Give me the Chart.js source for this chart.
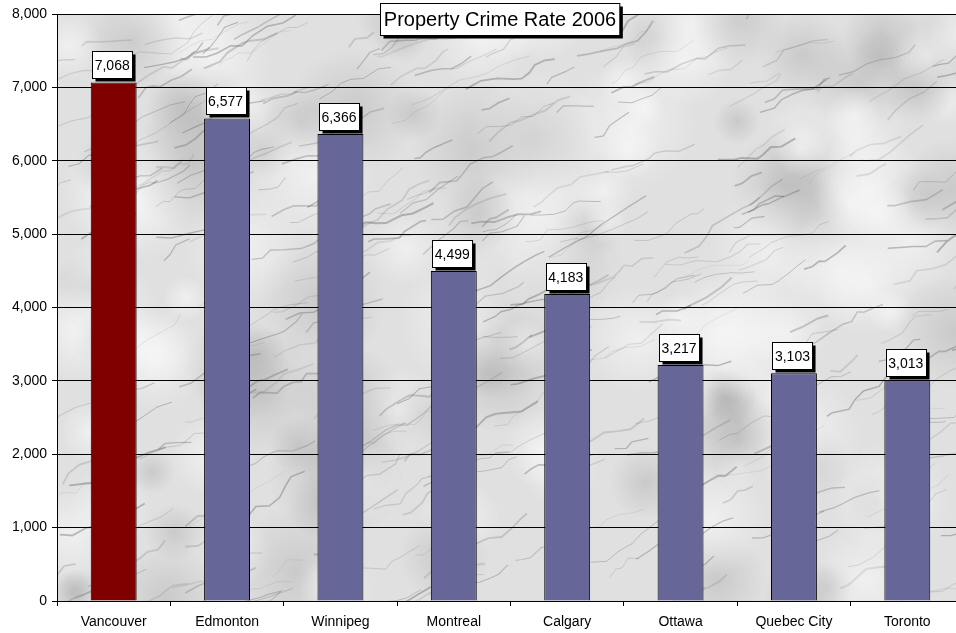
<!DOCTYPE html>
<html><head><meta charset="utf-8">
<script src="https://cdn.jsdelivr.net/npm/chart.js@4/dist/chart.umd.min.js"></script>
<style>html,body{margin:0;padding:0;background:#fff;overflow:hidden;width:956px;height:633px}canvas{display:block}</style>
</head><body>
<canvas id="c" width="964" height="633"></canvas>
<script>
const categories = ["Vancouver","Edmonton","Winnipeg","Montreal","Calgary","Ottawa","Quebec City","Toronto"];
const crimeRate = [7068,6577,6366,4499,4183,3217,3103,3013];
const barColors = ["#800000","#666699","#666699","#666699","#666699","#666699","#666699","#666699"];
const titleText = "Property Crime Rate 2006";

function h(n){const s=Math.sin(n*127.1+311.7)*43758.5453;return s-Math.floor(s);}

const marble = {
  id:'marble',
  beforeDraw(chart){
    const {ctx, chartArea:a} = chart;
    ctx.save();
    ctx.beginPath(); ctx.rect(a.left,a.top,a.right-a.left,a.bottom-a.top); ctx.clip();
    ctx.fillStyle = '#e0e0e0';
    ctx.fillRect(a.left,a.top,a.right-a.left,a.bottom-a.top);
    for(let i=0;i<140;i++){
      const x=a.left+h(i)*(a.right-a.left), y=a.top+h(i+500)*(a.bottom-a.top);
      const r=20+h(i+900)*50;
      const g=ctx.createRadialGradient(x,y,0,x,y,r);
      const light = h(i+1300)>0.45;
      g.addColorStop(0, light?'rgba(250,250,250,0.6)':'rgba(160,160,160,0.35)');
      g.addColorStop(1, light?'rgba(250,250,250,0)':'rgba(160,160,160,0)');
      ctx.fillStyle=g; ctx.beginPath(); ctx.arc(x,y,r,0,Math.PI*2); ctx.fill();
    }
    for(let i=0;i<320;i++){
      let x=a.left-30+h(i+2000)*(a.right-a.left+30), y=a.top+h(i+3000)*(a.bottom-a.top+30);
      ctx.strokeStyle='rgba(100,100,100,'+(0.12+h(i+4000)*0.3)+')';
      ctx.lineWidth=0.6+h(i+5000)*1.4;
      ctx.beginPath(); ctx.moveTo(x,y);
      const segs=3+Math.floor(h(i+6000)*6);
      for(let s=0;s<segs;s++){
        x += 5+h(i*7+s)*12; y -= 1+h(i*11+s+70)*12 - 2;
        ctx.lineTo(x,y);
      }
      ctx.stroke();
    }
    ctx.restore();
  }
};

const overlay = {
  id:'overlay',
  afterDraw(chart){
    const ctx=chart.ctx;
    ctx.save();
    ctx.font='14px "Liberation Sans", Arial, sans-serif';
    ctx.textAlign='center'; ctx.textBaseline='middle';
    const meta=chart.getDatasetMeta(0);
    meta.data.forEach((bar,i)=>{
      const txt=crimeRate[i].toLocaleString('en-US');
      const w=ctx.measureText(txt).width+5, hgt=27;
      const cx=bar.x-1.5, bottom=bar.y-4;
      const x=Math.round(cx-w/2)+0.5, y=Math.round(bottom-hgt)+0.5;
      ctx.fillStyle='#000'; ctx.fillRect(x+3,y+3,w,hgt);
      ctx.fillStyle='#fff'; ctx.fillRect(x,y,w,hgt);
      ctx.strokeStyle='#000'; ctx.lineWidth=1; ctx.strokeRect(x,y,w,hgt);
      ctx.fillStyle='#000'; ctx.fillText(txt,cx,y+hgt/2+1);
    });
    ctx.font='20px "Liberation Sans", Arial, sans-serif';
    const tw=ctx.measureText(titleText).width+7;
    const tx=Math.round(500-tw/2)+0.5, ty=3.5, th=32;
    ctx.fillStyle='#000'; ctx.fillRect(tx+3,ty+3,tw,th);
    ctx.fillStyle='#fff'; ctx.fillRect(tx,ty,tw,th);
    ctx.strokeStyle='#000'; ctx.strokeRect(tx,ty,tw,th);
    ctx.fillStyle='#000'; ctx.fillText(titleText,500,ty+th/2+1);
    ctx.restore();
  }
};

new Chart(document.getElementById('c'),{
  type:'bar',
  data:{labels:categories,datasets:[{data:crimeRate,backgroundColor:barColors,borderColor:'#000',borderWidth:1,barPercentage:0.405,categoryPercentage:1}]},
  options:{
    responsive:false,animation:false,
    layout:{padding:{top:14,left:0,right:0,bottom:0}},
    plugins:{legend:{display:false},title:{display:false},tooltip:{enabled:false}},
    scales:{
      x:{
        grid:{offset:true,drawOnChartArea:false,color:'#000',tickLength:5,lineWidth:1},
        border:{color:'#000'},
        ticks:{color:'#000',font:{family:'"Liberation Sans", Arial, sans-serif',size:14},padding:8,maxRotation:0},
        afterFit(s){s.height=32;}
      },
      y:{
        min:0,max:8000,
        grid:{color:'#000',tickLength:5,lineWidth:1},
        border:{color:'#000'},
        ticks:{stepSize:1000,color:'#000',font:{family:'"Liberation Sans", Arial, sans-serif',size:14},padding:5,
          callback:v=>v.toLocaleString('en-US')},
        afterFit(s){s.width=57;}
      }
    }
  },
  plugins:[marble,overlay]
});
</script>
</body></html>
